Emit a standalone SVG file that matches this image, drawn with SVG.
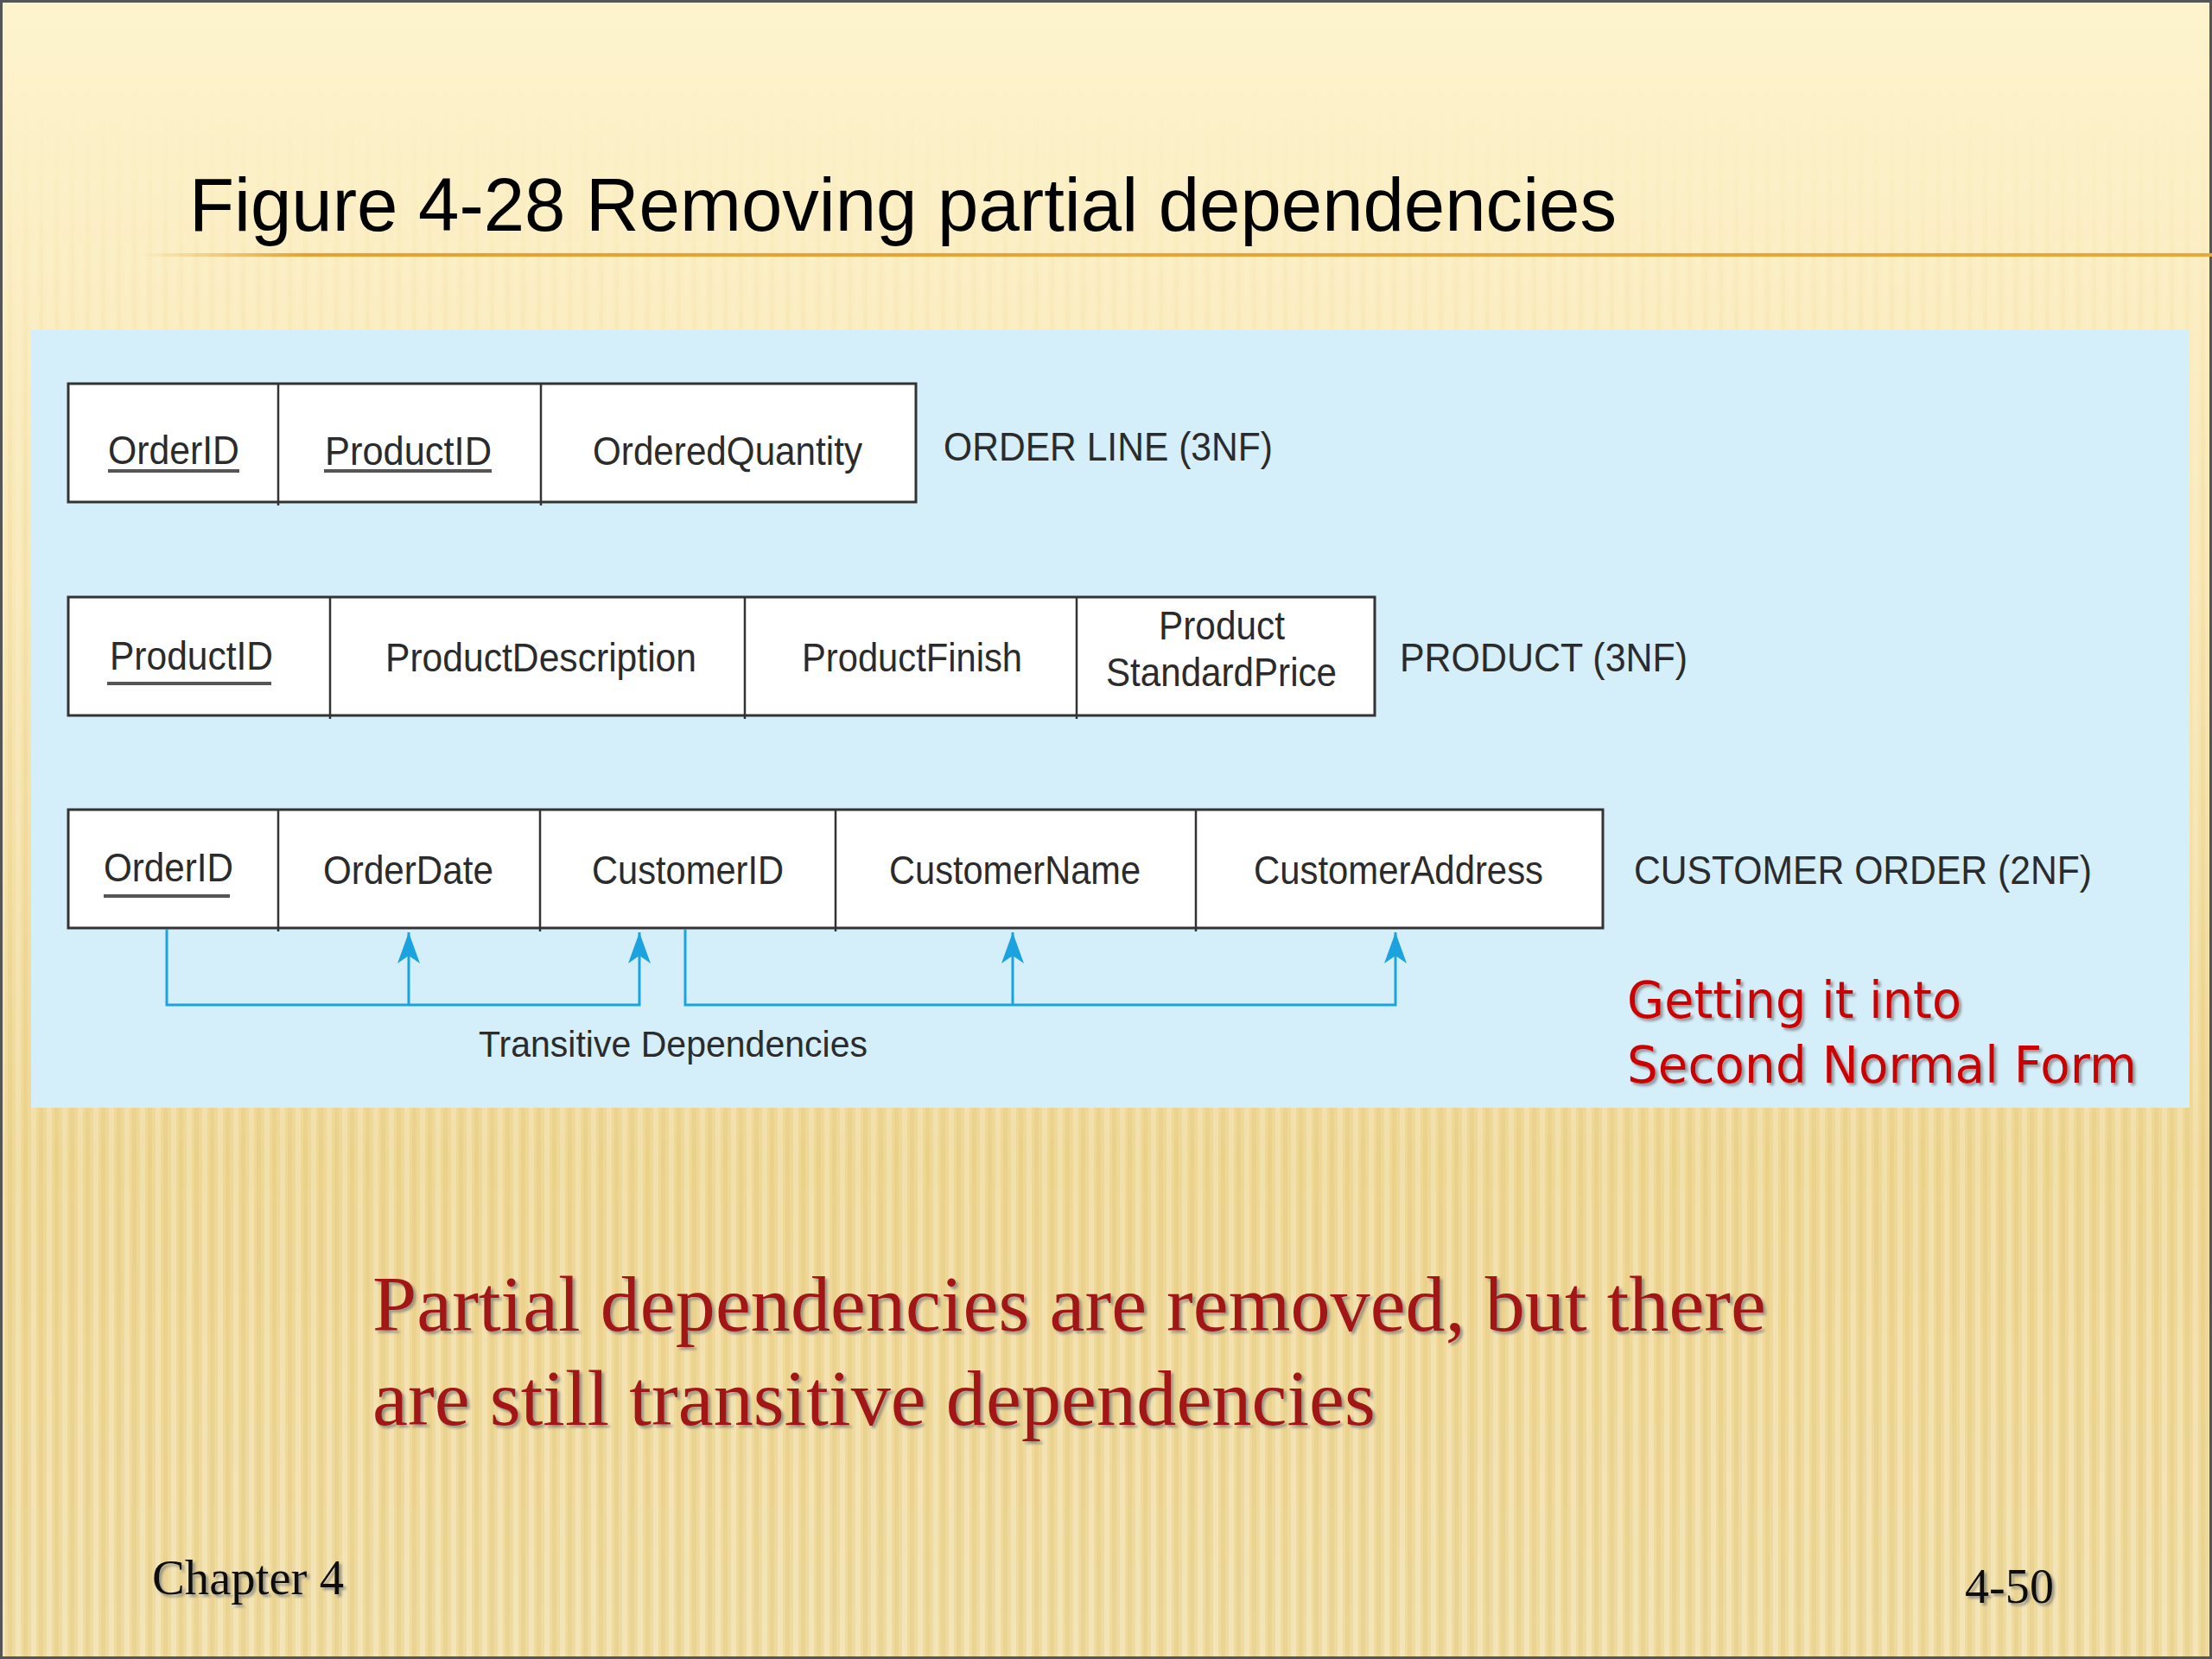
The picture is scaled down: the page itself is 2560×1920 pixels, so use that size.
<svg xmlns="http://www.w3.org/2000/svg" width="2560" height="1920" viewBox="0 0 2560 1920">
<defs>
<linearGradient id="bg" x1="0" y1="0" x2="0" y2="1">
<stop offset="0" stop-color="#fdf3cd"/>
<stop offset="0.35" stop-color="#f9e8b5"/>
<stop offset="0.7" stop-color="#efd794"/>
<stop offset="1" stop-color="#efdb9f"/>
</linearGradient>
<pattern id="stripes" x="0" y="0" width="18" height="40" patternUnits="userSpaceOnUse">
<rect x="0" y="0" width="6" height="40" fill="#ffffff" opacity="0.28"/>
<rect x="9" y="0" width="5" height="40" fill="#c9a94f" opacity="0.14"/>
</pattern>
<linearGradient id="fadeG" x1="0" y1="0" x2="0" y2="1">
<stop offset="0" stop-color="#000"/>
<stop offset="0.05" stop-color="#000"/>
<stop offset="0.3" stop-color="#888"/>
<stop offset="1" stop-color="#fff"/>
</linearGradient>
<mask id="fade"><rect width="2560" height="1920" fill="url(#fadeG)"/></mask>
<linearGradient id="rule" x1="0" y1="0" x2="1" y2="0">
<stop offset="0" stop-color="#e8a030" stop-opacity="0"/>
<stop offset="0.08" stop-color="#e8a030" stop-opacity="1"/>
<stop offset="1" stop-color="#eba638"/>
</linearGradient>
<filter id="sh" x="-5%" y="-20%" width="110%" height="140%">
<feDropShadow dx="3" dy="3" stdDeviation="1.5" flood-color="#777" flood-opacity="0.7"/>
</filter>
<marker id="arr" viewBox="0 0 36 26" refX="36" refY="13" markerWidth="36" markerHeight="26" markerUnits="userSpaceOnUse" orient="auto">
<path d="M0,0 L36,13 L0,26 L9,13 z" fill="#1ba3e0"/>
</marker>
<style>
.cell{fill:#ffffff;stroke:#333;stroke-width:3}
.div{stroke:#333;stroke-width:2.5}
.t{font-family:"Liberation Sans",Arial,sans-serif;font-size:46px;fill:#2b2b2b}
.lab{font-family:"Liberation Sans",Arial,sans-serif;font-size:46px;fill:#2b2b2b}
.ul{stroke:#555;stroke-width:4}
.dep{fill:none;stroke:#1ba3e0;stroke-width:3}
.red{font-family:"DejaVu Sans",Verdana,sans-serif;font-size:58px;fill:#cc0000}
.body{font-family:"Liberation Serif","Times New Roman",serif;font-size:92px;fill:#a31515}
.foot{font-family:"Liberation Serif","Times New Roman",serif;font-size:57px;fill:#111}
</style>
</defs>
<rect width="2560" height="1920" fill="url(#bg)"/>
<rect width="2560" height="1920" fill="url(#stripes)" mask="url(#fade)"/>
<rect x="1.5" y="1.5" width="2557" height="1917" fill="none" stroke="#555" stroke-width="3"/>
<text x="219" y="267" font-family="Liberation Sans,Arial,sans-serif" font-size="88" fill="#000" textLength="1652" lengthAdjust="spacingAndGlyphs">Figure 4-28 Removing partial dependencies</text>
<rect x="163" y="293" width="2397" height="4" fill="url(#rule)"/>
<rect x="36" y="382" width="2498" height="900" fill="#d4eefa"/>
<g id="order-line">
<rect class="cell" x="79" y="444" width="981" height="137"/>
<line class="div" x1="322" y1="444" x2="322" y2="585"/>
<line class="div" x1="626" y1="444" x2="626" y2="585"/>
<text class="t" x="125" y="537" textLength="152" lengthAdjust="spacingAndGlyphs">OrderID</text>
<line class="ul" x1="125" y1="545" x2="277" y2="545"/>
<text class="t" x="376" y="538" textLength="193" lengthAdjust="spacingAndGlyphs">ProductID</text>
<line class="ul" x1="375" y1="545" x2="569" y2="545"/>
<text class="t" x="686" y="538" textLength="312" lengthAdjust="spacingAndGlyphs">OrderedQuantity</text>
<text class="lab" x="1092" y="533" textLength="381" lengthAdjust="spacingAndGlyphs">ORDER LINE (3NF)</text>
</g>
<g id="product">
<rect class="cell" x="79" y="691" width="1512" height="137"/>
<line class="div" x1="382" y1="691" x2="382" y2="832"/>
<line class="div" x1="862" y1="691" x2="862" y2="832"/>
<line class="div" x1="1246" y1="691" x2="1246" y2="832"/>
<text class="t" x="127" y="775" textLength="189" lengthAdjust="spacingAndGlyphs">ProductID</text>
<line class="ul" x1="124" y1="791" x2="314" y2="791"/>
<text class="t" x="446" y="777" textLength="360" lengthAdjust="spacingAndGlyphs">ProductDescription</text>
<text class="t" x="928" y="777" textLength="255" lengthAdjust="spacingAndGlyphs">ProductFinish</text>
<text class="t" x="1341" y="740" textLength="146" lengthAdjust="spacingAndGlyphs">Product</text>
<text class="t" x="1280" y="794" textLength="267" lengthAdjust="spacingAndGlyphs">StandardPrice</text>
<text class="lab" x="1620" y="777" textLength="333" lengthAdjust="spacingAndGlyphs">PRODUCT (3NF)</text>
</g>
<g id="customer-order">
<rect class="cell" x="79" y="937" width="1776" height="137"/>
<line class="div" x1="322" y1="937" x2="322" y2="1078"/>
<line class="div" x1="625" y1="937" x2="625" y2="1078"/>
<line class="div" x1="967" y1="937" x2="967" y2="1078"/>
<line class="div" x1="1384" y1="937" x2="1384" y2="1078"/>
<text class="t" x="120" y="1020" textLength="150" lengthAdjust="spacingAndGlyphs">OrderID</text>
<line class="ul" x1="120" y1="1037" x2="266" y2="1037"/>
<text class="t" x="374" y="1023" textLength="197" lengthAdjust="spacingAndGlyphs">OrderDate</text>
<text class="t" x="685" y="1023" textLength="222" lengthAdjust="spacingAndGlyphs">CustomerID</text>
<text class="t" x="1029" y="1023" textLength="291" lengthAdjust="spacingAndGlyphs">CustomerName</text>
<text class="t" x="1451" y="1023" textLength="335" lengthAdjust="spacingAndGlyphs">CustomerAddress</text>
<text class="lab" x="1891" y="1023" textLength="530" lengthAdjust="spacingAndGlyphs">CUSTOMER ORDER (2NF)</text>
</g>
<g id="connectors">
<path class="dep" d="M193,1075 V1163 H740 V1079" marker-end="url(#arr)"/>
<path class="dep" d="M473,1163 V1079" marker-end="url(#arr)"/>
<path class="dep" d="M793,1075 V1163 H1615 V1079" marker-end="url(#arr)"/>
<path class="dep" d="M1172,1163 V1079" marker-end="url(#arr)"/>
<text x="554" y="1223" font-family="Liberation Sans,Arial,sans-serif" font-size="42" fill="#2b2b2b" textLength="450" lengthAdjust="spacingAndGlyphs">Transitive Dependencies</text>
</g>
<g id="note" filter="url(#sh)">
<text class="red" x="1883" y="1178" textLength="387" lengthAdjust="spacingAndGlyphs">Getting it into</text>
<text class="red" x="1883" y="1253" textLength="590" lengthAdjust="spacingAndGlyphs">Second Normal Form</text>
</g>
<g id="body" filter="url(#sh)">
<text class="body" x="431" y="1540" textLength="1613" lengthAdjust="spacingAndGlyphs">Partial dependencies are removed, but there</text>
<text class="body" x="431" y="1649" textLength="1161" lengthAdjust="spacingAndGlyphs">are still transitive dependencies</text>
</g>
<g id="footer" filter="url(#sh)">
<text class="foot" x="176" y="1845" textLength="222" lengthAdjust="spacingAndGlyphs">Chapter 4</text>
<text class="foot" x="2274" y="1855" textLength="103" lengthAdjust="spacingAndGlyphs">4-50</text>
</g>
</svg>
